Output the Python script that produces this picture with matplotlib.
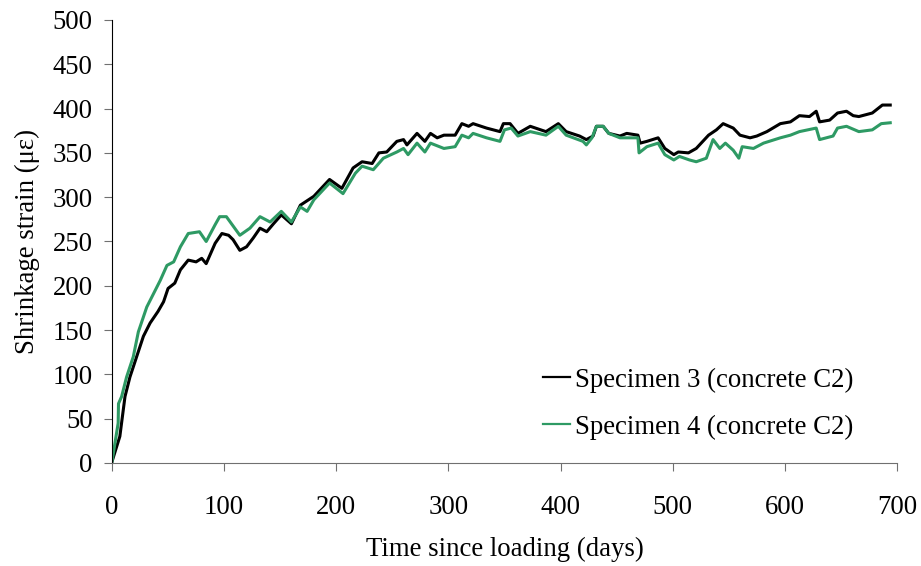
import matplotlib
matplotlib.use("Agg")
import matplotlib.pyplot as plt

# Specimen 3 (black)
days3 = [0, 7, 11.6, 16, 22, 28, 34, 41, 46, 50,
         56, 61, 68, 75, 80, 84, 92, 98, 104, 108,
         114, 120, 126, 132, 138, 144, 151, 160, 168, 180,
         194, 205, 215, 223, 232, 238, 245, 254, 260, 263,
         272, 279, 284, 290, 296, 306, 312, 318, 322, 334,
         346, 349, 355, 362, 373, 387, 398, 405, 417, 423,
         429, 432, 438, 443, 453, 459, 469, 471, 477, 487,
         493, 501, 505, 514, 521, 532, 539, 545, 554, 560,
         569, 575, 584, 596, 605, 613, 622, 628, 631, 640,
         647, 655, 661, 666, 678, 687, 694]
strain3 = [1.5, 30, 75, 97, 120, 143, 158, 171, 182, 197,
           203, 218, 229, 227, 231, 225, 248, 259, 257, 252,
           240, 244, 254, 265, 261, 270, 280, 270, 291, 301,
           320, 310, 333, 340, 338, 350, 351, 363, 365, 359,
           372, 363, 372, 367, 370, 370, 383, 380, 383, 378,
           374, 383, 383, 372, 380, 374, 383, 374, 369, 365,
           369, 380, 380, 372, 369, 372, 370, 361, 363, 367,
           355, 348, 351, 350, 355, 370, 376, 383, 378, 370,
           367, 369, 374, 383, 385, 392, 391, 397, 385, 387,
           395, 397, 392, 391, 395, 404, 404]

# Specimen 4 (green)
days4 = [0, 5.5, 5.8, 8.6, 13, 19, 23.5, 31, 37, 43, 49,
         55, 61, 68, 78, 84, 92, 96, 102, 114, 123,
         132, 141, 151, 160, 168, 174, 180, 194, 206, 217,
         223, 233, 242, 254, 260, 264, 272, 279, 284, 296,
         306, 312, 318, 322, 334, 346, 350, 356, 362, 373,
         387, 398, 405, 420, 423, 428, 432, 438, 443, 453,
         469, 470, 477, 487, 493, 501, 506, 515, 521, 530,
         536, 542, 547, 554, 559, 562, 572, 581, 596, 605,
         613, 628, 631, 643, 647, 655, 666, 678, 686, 694]
strain4 = [1.5, 45, 67, 75, 97, 120, 148, 176, 191, 206, 223,
           227, 244, 259, 261, 250, 269, 278, 278, 257, 265,
           278, 272, 284, 272, 289, 284, 297, 316, 304, 327,
           335, 331, 344, 351, 355, 348, 361, 351, 361, 355,
           357, 370, 367, 372, 367, 363, 376, 378, 369, 374,
           370, 380, 370, 363, 359, 367, 380, 380, 372, 367,
           367, 350, 357, 361, 348, 342, 346, 342, 340, 344,
           365, 355, 361, 353, 344, 357, 355, 361, 367, 370,
           374, 378, 365, 369, 378, 380, 374, 376, 383, 384]

labels = ["Specimen 3 (concrete C2)", "Specimen 4 (concrete C2)"]
xticks = [0, 100, 200, 300, 400, 500, 600, 700]
yticks = [0, 50, 100, 150, 200, 250, 300, 350, 400, 450, 500]

plt.rcParams["font.family"] = ["Liberation Serif", "DejaVu Serif"]
plt.rcParams["font.size"] = 19.3

fig = plt.figure(figsize=(9.21, 5.66), dpi=100)
ax = fig.add_axes([0.1216, 0.182, 0.8523, 0.7827])

ax.plot(days3, strain3, color="black", lw=2.2, label=labels[0])
ax.plot(days4, strain4, color="#2e9a64", lw=2.2, label=labels[1])

ax.set_xlim(0, 700)
ax.set_ylim(0, 500)
ax.set_xticks(xticks)
ax.set_yticks(yticks)

ax.spines["top"].set_visible(False)
ax.spines["right"].set_visible(False)
ax.spines["left"].set_color("black")
ax.spines["bottom"].set_color("#707070")
ax.tick_params(axis="y", direction="out", length=5.5, color="#707070", pad=8.5)
ax.tick_params(axis="x", direction="out", length=5.5, color="#707070", pad=17.5)

ax.set_xlabel("Time since loading (days)", labelpad=12.5)
ax.set_ylabel("Shrinkage strain (\u03bc\u03b5)", labelpad=9)

leg = ax.legend(loc="center left", bbox_to_anchor=(0.549, 0.134), frameon=False,
                borderaxespad=0, borderpad=0, handlelength=1.0, handletextpad=0.2,
                labelspacing=0.81)
for h in leg.get_lines():
    h.set_linewidth(1.6)

fig.savefig("out.png", dpi=100)
